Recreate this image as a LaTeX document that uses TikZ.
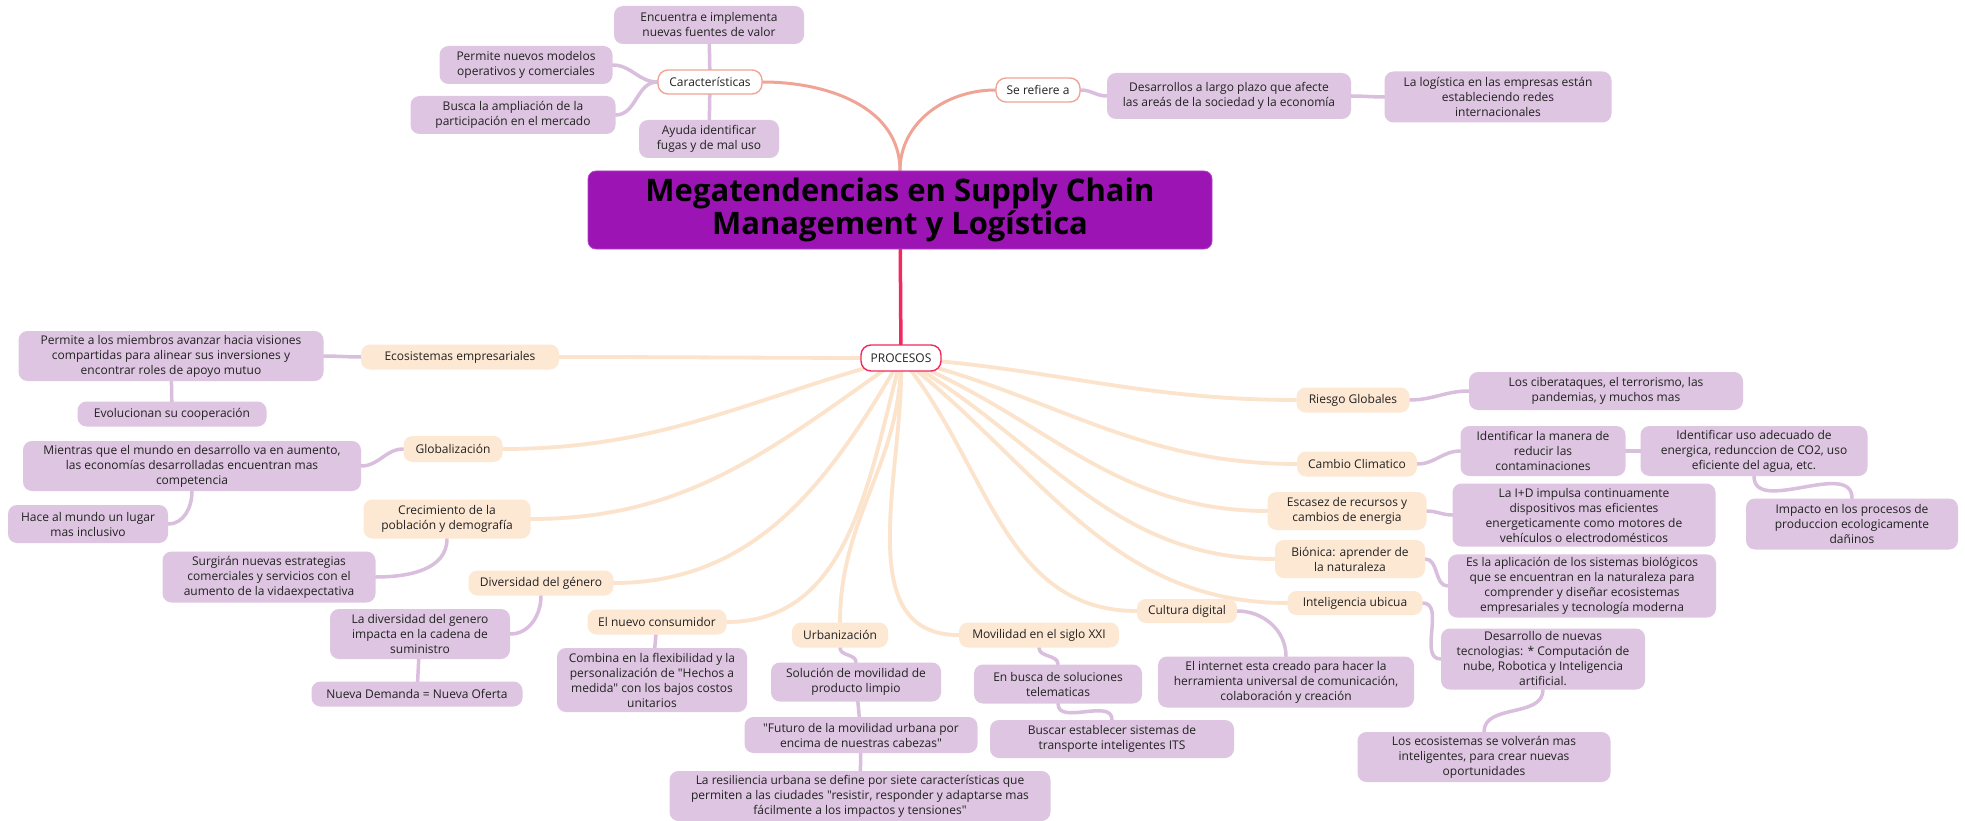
\documentclass[tikz,border=0pt]{standalone}
\usepackage{fontspec}
\setmainfont{Open Sans}[Ligatures=TeXOff]

\definecolor{rootfill}{HTML}{9C14B4}
\definecolor{crimson}{HTML}{F2295F}
\definecolor{salmon}{HTML}{F0A496}
\definecolor{peach}{HTML}{FDE8D4}
\definecolor{peachline}{HTML}{FCE3CC}
\definecolor{lilac}{HTML}{DEC5E1}
\definecolor{lilacline}{HTML}{D9BEDD}
\definecolor{ink}{HTML}{222222}

\pgfdeclarelayer{paper}
\pgfdeclarelayer{links}
\pgfsetlayers{paper,links,main}

\begin{document}
\begin{tikzpicture}[x=1pt,y=-1pt,
  every node/.style={font=\fontsize{12}{15}\selectfont, text=ink, align=center,
    inner xsep=6pt, inner ysep=3pt},
  root/.style={fill=rootfill, draw=rootfill!80!white, line width=0.8pt, rounded corners=8pt,
    text=black, font=\fontsize{31}{31}\selectfont\bfseries},
  proc/.style={fill=white, draw=crimson, line width=1.4pt, rounded corners=10pt, minimum height=26},
  topic/.style={fill=white, draw=salmon, line width=1.4pt, rounded corners=10pt, minimum height=24},
  sub/.style={fill=peach, rounded corners=9pt, minimum height=25},
  leaf/.style={fill=lilac, rounded corners=9pt},
  rootlink/.style={draw=crimson, line width=3.5pt, line cap=round},
  toplink/.style={draw=salmon, line width=3pt, line cap=round},
  plink/.style={draw=peachline, line width=3.8pt, line cap=round},
  llink/.style={draw=lilacline, line width=3.5pt, line cap=round}]

\useasboundingbox (0,0) rectangle (1965,821);
\begin{pgfonlayer}{paper}
  \fill[white] (0,0) rectangle (1965,821);
\end{pgfonlayer}

% central topic and the two upper branches
\node[root, minimum width=624, minimum height=78] (root) at (900,210)
  {Megatendencias en Supply Chain\\Management y Logística};
\node[proc, minimum width=80] (proc) at (901,358) {PROCESOS};
\node[topic, minimum width=104] (car) at (710,82) {Características};
\node[topic, minimum width=84] (ser) at (1038,90) {Se refiere a};

% Características
\node[leaf, minimum width=190, minimum height=38] (enc) at (709,25) {Encuentra e implementa\\nuevas fuentes de valor};
\node[leaf, minimum width=173, minimum height=38] (pmo) at (526,65) {Permite nuevos modelos\\operativos y comerciales};
\node[leaf, minimum width=205, minimum height=38] (bus) at (513,115) {Busca la ampliación de la\\participación en el mercado};
\node[leaf, minimum width=140, minimum height=38] (ayu) at (709,139) {Ayuda identificar\\fugas y de mal uso};

% Se refiere a
\node[leaf, minimum width=244, minimum height=46] (des) at (1229,96) {Desarrollos a largo plazo que afecte\\las areás de la sociedad y la economía};
\node[leaf, minimum width=227, minimum height=51] (log) at (1498,97) {La logística en las empresas están\\estableciendo redes\\internacionales};

% PROCESOS, left side
\node[sub, minimum width=198] (eco) at (460,357) {Ecosistemas empresariales};
\node[leaf, minimum width=305, minimum height=50] (mie) at (171,356) {Permite a los miembros avanzar hacia visiones\\compartidas para alinear sus inversiones y\\encontrar roles de apoyo mutuo};
\node[leaf, minimum width=189, minimum height=25] (evo) at (172,414) {Evolucionan su cooperación};

\node[sub, minimum width=99, minimum height=26] (glo) at (453,449) {Globalización};
\node[leaf, minimum width=338, minimum height=50] (mdo) at (192,466) {Mientras que el mundo en desarrollo va en aumento,\\las economías desarrolladas encuentran mas\\competencia};
\node[leaf, minimum width=160, minimum height=38] (hac) at (88,524) {Hace al mundo un lugar\\mas inclusivo};

\node[sub, minimum width=167, minimum height=39] (cre) at (447,519) {Crecimiento de la\\población y demografía};
\node[leaf, minimum width=213, minimum height=51] (sur) at (269,577) {Surgirán nuevas estrategias\\comerciales y servicios con el\\aumento de la vidaexpectativa};

\node[sub, minimum width=145] (div) at (541,583) {Diversidad del género};
\node[leaf, minimum width=180, minimum height=50] (ldg) at (420,634) {La diversidad del genero\\impacta en la cadena de\\suministro};
\node[leaf, minimum width=211, minimum height=25] (nue) at (417,694) {Nueva Demanda = Nueva Oferta};

\node[sub, minimum width=139] (con) at (657,622) {El nuevo consumidor};
\node[leaf, minimum width=190, minimum height=64] (com) at (652,680) {Combina en la flexibilidad y la\\personalización de "Hechos a\\medida" con los bajos costos\\unitarios};

% PROCESOS, bottom
\node[sub, minimum width=96] (urb) at (840,635) {Urbanización};
\node[leaf, minimum width=170, minimum height=39] (sol) at (856,682) {Solución de movilidad de\\producto limpio};
\node[leaf, minimum width=233, minimum height=36] (fut) at (861,735) {"Futuro de la movilidad urbana por\\encima de nuestras cabezas"};
\node[leaf, minimum width=381, minimum height=50] (res) at (860,796) {La resiliencia urbana se define por siete características que\\permiten a las ciudades "resistir, responder y adaptarse mas\\fácilmente a los impactos y tensiones"};

\node[sub, minimum width=160] (mov) at (1039,635) {Movilidad en el siglo XXI};
\node[leaf, minimum width=168, minimum height=39] (enb) at (1058,684) {En busca de soluciones\\telematicas};
\node[leaf, minimum width=244, minimum height=38] (its) at (1112,739) {Buscar establecer sistemas de\\transporte inteligentes ITS};

\node[sub, minimum width=100, minimum height=24] (cul) at (1187,611) {Cultura digital};
\node[leaf, minimum width=256, minimum height=51] (int) at (1286,682) {El internet esta creado para hacer la\\herramienta universal de comunicación,\\colaboración y creación};

% PROCESOS, right side
\node[sub, minimum width=113] (rie) at (1353,400) {Riesgo Globales};
\node[leaf, minimum width=274, minimum height=38] (cib) at (1606,391) {Los ciberataques, el terrorismo, las\\pandemias, y muchos mas};

\node[sub, minimum width=120] (cam) at (1357,464) {Cambio Climatico};
\node[leaf, minimum width=165, minimum height=50] (idm) at (1543,451) {Identificar la manera de\\reducir las\\contaminaciones};
\node[leaf, minimum width=227, minimum height=50] (idu) at (1754,451) {Identificar uso adecuado de\\energica, redunccion de CO2, uso\\eficiente del agua, etc.};
\node[leaf, minimum width=212, minimum height=51] (imp) at (1852,524) {Impacto en los procesos de\\produccion ecologicamente\\dañinos};

\node[sub, minimum width=159, minimum height=38] (esc) at (1347,511) {Escasez de recursos y\\cambios de energia};
\node[leaf, minimum width=263, minimum height=63] (ide) at (1584,515) {La I+D impulsa continuamente\\dispositivos mas eficientes\\energeticamente como motores de\\vehículos o electrodomésticos};

\node[sub, minimum width=150, minimum height=38] (bio) at (1350,559) {Biónica: aprender de\\la naturaleza};
\node[leaf, minimum width=268, minimum height=61] (apl) at (1582,586) {Es la aplicación de los sistemas biológicos\\que se encuentran en la naturaleza para\\comprender y diseñar ecosistemas\\empresariales y tecnología moderna};

\node[sub, minimum width=135, minimum height=24] (ubi) at (1355,603) {Inteligencia ubicua};
\node[leaf, minimum width=204, minimum height=61] (tec) at (1543,659) {Desarrollo de nuevas\\tecnologias: * Computación de\\nube, Robotica y Inteligencia\\artificial.};
\node[leaf, minimum width=253, minimum height=50] (ecs) at (1484,757) {Los ecosistemas se volverán mas\\inteligentes, para crear nuevas\\oportunidades};

% connectors, kept behind the boxes
\begin{pgfonlayer}{links}
  \draw[rootlink] (root.center) -- (proc.center);
  \draw[toplink] (root.center) -- (root.north) to[out=90, in=0] (car.east);
  \draw[toplink] (root.north) to[out=90, in=180] (ser.west);

  \draw[llink] (car.center) -- (enc.center);
  \draw[llink] (car.center) -- (ayu.center);
  \draw[llink] (car.west) to[out=180, in=0] (pmo.east);
  \draw[llink] (car.west) to[out=180, in=0] (bus.east);
  \draw[llink] (ser.east) to[out=0, in=180] (des.west);
  \draw[llink] (des.east) to[out=0, in=180] (log.west);

  \draw[plink] (proc.center) to[out=180, in=0] (eco.east);
  \draw[plink] (proc.center) to[out=195, in=0] (glo.east);
  \draw[plink] (proc.center) to[out=215, in=0] (cre.east);
  \draw[plink] (proc.center) to[out=240, in=0] (div.east);
  \draw[plink] (proc.center) to[out=255, in=0] (con.east);
  \draw[plink] (proc.center) to[out=270, in=90] (urb.north);
  \draw[plink] (proc.center) to[out=272, in=180] (mov.west);
  \draw[plink] (proc.center) to[out=310, in=180] (cul.west);
  \draw[plink] (proc.center) to[out=322, in=180] (ubi.west);
  \draw[plink] (proc.center) to[out=330, in=180] (bio.west);
  \draw[plink] (proc.center) to[out=338, in=180] (esc.west);
  \draw[plink] (proc.center) to[out=346, in=180] (cam.west);
  \draw[plink] (proc.center) to[out=356, in=180] (rie.west);

  \draw[llink] (eco.west) to[out=180, in=0] (mie.east);
  \draw[llink] (mie.center) -- (evo.center);
  \draw[llink] (glo.west) to[out=180, in=0] (mdo.east);
  \draw[llink] (mdo.south) to[out=270, in=0] (hac.east);
  \draw[llink] (cre.south) to[out=270, in=0] (sur.east);
  \draw[llink] (div.south) to[out=270, in=0] (ldg.east);
  \draw[llink] (ldg.center) -- (nue.center);
  \draw[llink] (con.center) -- (com.center);
  \draw[llink] (urb.south) to[out=270, in=90] (sol.north);
  \draw[llink] (sol.center) -- (fut.center);
  \draw[llink] (fut.center) -- (res.center);
  \draw[llink] (mov.south) to[out=270, in=90] (enb.north);
  \draw[llink] (enb.south) to[out=270, in=90] (its.north);
  \draw[llink] (cul.east) to[out=0, in=90] (int.north);
  \draw[llink] (rie.east) to[out=0, in=180] (cib.west);
  \draw[llink] (cam.east) to[out=0, in=180] (idm.west);
  \draw[llink] (idm.east) to[out=0, in=180] (idu.west);
  \draw[llink] (idu.south) to[out=270, in=90] (imp.north);
  \draw[llink] (esc.east) to[out=0, in=180] (ide.west);
  \draw[llink] (bio.east) to[out=0, in=180] (apl.west);
  \draw[llink] (ubi.east) to[out=0, in=180] (tec.west);
  \draw[llink] (tec.south) to[out=270, in=90] (ecs.north);
\end{pgfonlayer}
\end{tikzpicture}
\end{document}
